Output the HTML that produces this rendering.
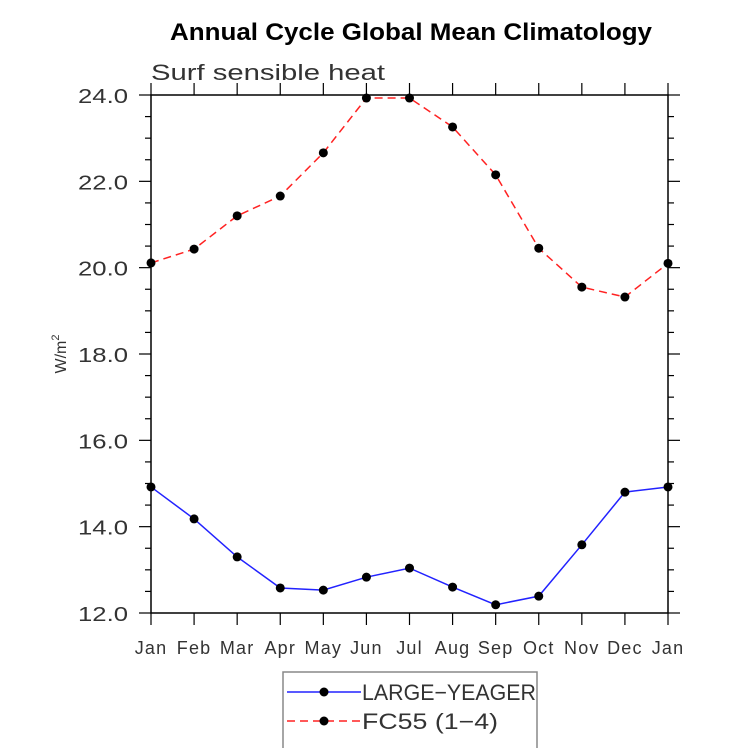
<!DOCTYPE html>
<html><head><meta charset="utf-8"><style>
body{margin:0;background:#fff;}
svg text{font-family:"Liberation Sans",sans-serif;}
</style></head><body>
<svg id="c" width="733" height="748" viewBox="0 0 733 748" xmlns="http://www.w3.org/2000/svg">
<text x="170" y="40" font-size="24" font-weight="bold" textLength="482" lengthAdjust="spacingAndGlyphs">Annual Cycle Global Mean Climatology</text>
<text x="151" y="80" font-size="22" fill="#333" textLength="234" lengthAdjust="spacingAndGlyphs">Surf sensible heat</text>
<text transform="translate(66,354) rotate(-90)" text-anchor="middle" font-size="16" fill="#333">W/m<tspan dy="-7" font-size="11">2</tspan></text>
<g id="axes"></g>
<g id="series"></g>
<g>
<rect x="283" y="672" width="254" height="80" fill="none" stroke="#888" stroke-width="1.5"/>
<g>
<line x1="287" y1="692" x2="361" y2="692" stroke="#2222ff" stroke-width="1.5"/>
<circle cx="324" cy="692" r="4.5" fill="#000"/>
<text x="362" y="700" font-size="22" fill="#333" textLength="174" lengthAdjust="spacingAndGlyphs">LARGE−YEAGER</text></g>
<g>
<line x1="287" y1="721" x2="361" y2="721" stroke="#ff2222" stroke-width="1.5" stroke-dasharray="8,5"/>
<circle cx="324" cy="721" r="4.5" fill="#000"/>
<text x="362" y="729" font-size="22" fill="#333" textLength="136" lengthAdjust="spacingAndGlyphs">FC55 (1−4)</text></g>
</g>
</svg>
<script>
const months=["Jan","Feb","Mar","Apr","May","Jun","Jul","Aug","Sep","Oct","Nov","Dec","Jan"];
const largeYeager=[14.92,14.18,13.3,12.58,12.53,12.83,13.04,12.6,12.19,12.39,13.58,14.8,14.92];
const fc55=[20.11,20.43,21.2,21.66,22.66,23.93,23.93,23.26,22.15,20.45,19.55,19.32,20.1];
const yTicks=["12.0","14.0","16.0","18.0","20.0","22.0","24.0"];
const NS="http://www.w3.org/2000/svg";
const L=151,R=668,T=95,B=613,ymin=12,ymax=24;
const xs=i=>L+(R-L)*i/(months.length-1);
const ys=v=>B-(B-T)*(v-ymin)/(ymax-ymin);
function mk(tag,a,parent){const e=document.createElementNS(NS,tag);for(const k in a)e.setAttribute(k,a[k]);parent.appendChild(e);return e;}
const ax=document.getElementById('axes');
const fr=mk('rect',{x:L,y:T,width:R-L,height:B-T,fill:'none',stroke:'#000','stroke-width':1.5},ax);


months.forEach((m,i)=>{
  const x=xs(i);
  mk('line',{x1:x,y1:B,x2:x,y2:B+12,stroke:'#000','stroke-width':1.2},ax);
  mk('line',{x1:x,y1:T,x2:x,y2:T-12,stroke:'#000','stroke-width':1.2},ax);
  const t=mk('text',{x:x,y:B+41,'text-anchor':'middle','font-size':18,fill:'#333','letter-spacing':1.2},ax);
  t.textContent=m;
  
  
});
for(let v=ymin;v<=ymax+1e-9;v+=0.5){
  const y=ys(v),major=Math.abs(v%2)<1e-9;
  const len=major?12:6;
  mk('line',{x1:L,y1:y,x2:L-len,y2:y,stroke:'#000','stroke-width':1.2},ax);
  mk('line',{x1:R,y1:y,x2:R+len,y2:y,stroke:'#000','stroke-width':1.2},ax);
}
yTicks.forEach(s=>{
  const t=mk('text',{x:L-73,y:ys(parseFloat(s))+8,'font-size':20,fill:'#333',textLength:50,lengthAdjust:'spacingAndGlyphs'},ax);
  t.textContent=s;
  
  
});
const sg=document.getElementById('series');
function draw(vals,color,dash,name){
  const p=mk('polyline',{points:vals.map((v,i)=>xs(i)+','+ys(v)).join(' '),fill:'none',stroke:color,'stroke-width':1.5,'stroke-dasharray':dash},sg);
  
  
  vals.forEach((v,i)=>{
    const c=mk('circle',{cx:xs(i),cy:ys(v),r:4.5,fill:'#000'},sg);
    
    
  });
}
draw(largeYeager,'#2222ff','none','large-yeager');
draw(fc55,'#ff2222','8,5','fc55');
</script>
</body></html>
